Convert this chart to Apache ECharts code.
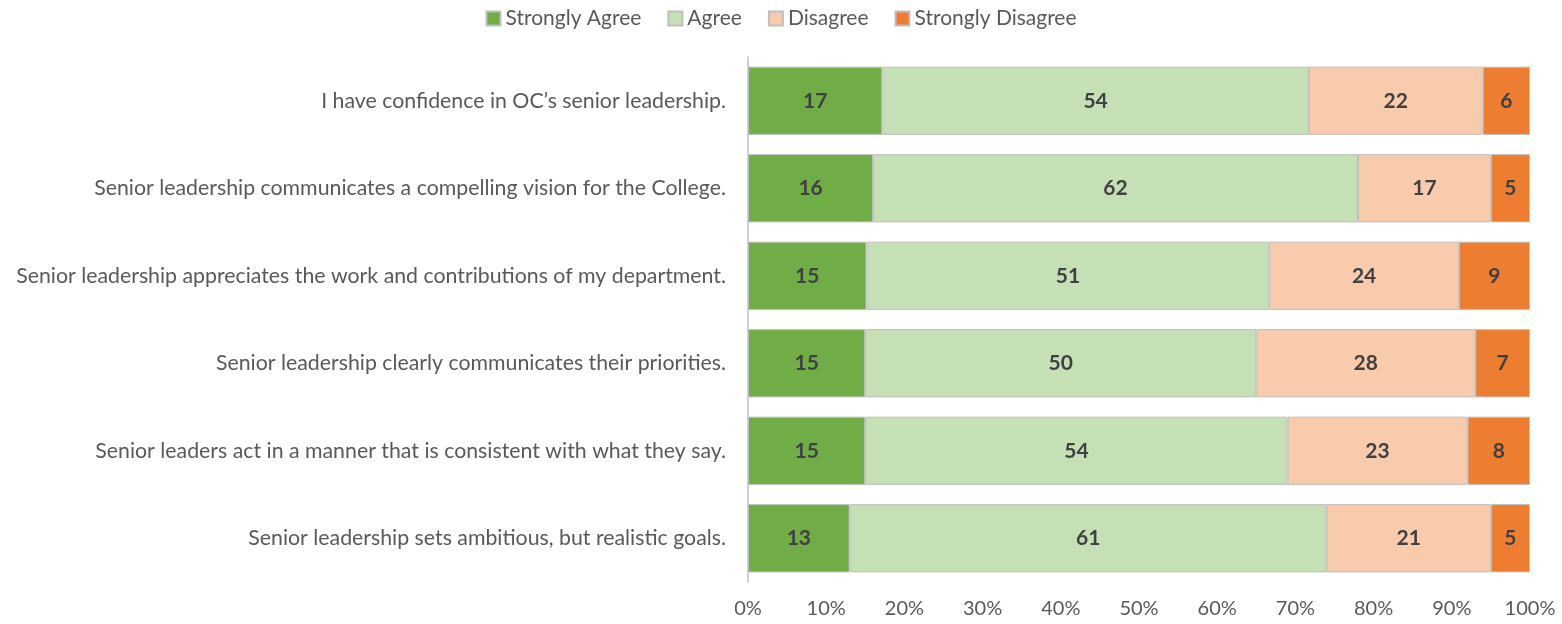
<!DOCTYPE html>
<html>
<head>
<meta charset="utf-8">
<script src="https://cdn.jsdelivr.net/npm/echarts@6/dist/echarts.min.js"></script>
<style>
  html, body { margin: 0; padding: 0; background: #fff; }
  #chart { width: 1562px; height: 624px; }
</style>
</head>
<body>
<div id="chart"></div>
<script>
// Survey statements (top to bottom)
const statements = [
  "I have confidence in OC\u2019s senior leadership.",
  "Senior leadership communicates a compelling vision for the College.",
  "Senior leadership appreciates the work and contributions of my department.",
  "Senior leadership clearly communicates their priorities.",
  "Senior leaders act in a manner that is consistent with what they say.",
  "Senior leadership sets ambitious, but realistic goals."
];

// Response shares (%) per statement
const stronglyAgree    = [17, 16, 15, 15, 15, 13];
const agree            = [54, 62, 51, 50, 54, 61];
const disagree         = [22, 17, 24, 28, 23, 21];
const stronglyDisagree = [6, 5, 9, 7, 8, 5];

const seriesNames = ["Strongly Agree", "Agree", "Disagree", "Strongly Disagree"];
const seriesColors = ["#70AD47", "#C5E0B4", "#F8CBAD", "#ED7D31"];
const axisTicks = [0, 10, 20, 30, 40, 50, 60, 70, 80, 90, 100];

const groups = [stronglyAgree, agree, disagree, stronglyDisagree];
// Each bar is scaled to a full 100% row; labels keep the reported value.
const rowTotals = statements.map((_, i) => groups.reduce((s, g) => s + g[i], 0));

const font = "Lato, 'Open Sans', sans-serif";

const series = groups.map((vals, k) => ({
  name: seriesNames[k],
  type: "bar",
  stack: "total",
  barCategoryGap: "22%",
  itemStyle: { color: seriesColors[k], borderColor: "#BFBFBF", borderWidth: 1 },
  label: {
    show: true,
    position: "inside",
    color: "#404040",
    fontWeight: "bold",
    fontSize: 21,
    fontFamily: font,
    formatter: p => String(vals[p.dataIndex])
  },
  emphasis: { disabled: true },
  data: vals.map((v, i) => v / rowTotals[i] * 100)
}));

const chart = echarts.init(document.getElementById("chart"));
chart.setOption({
  animation: false,
  legend: {
    top: 3,
    left: "center",
    itemWidth: 14,
    itemHeight: 14,
    itemGap: 26,
    icon: "rect",
    textStyle: { color: "#595959", fontSize: 21, fontFamily: font },
    data: seriesNames
  },
  grid: { left: 748, right: 32, top: 57, bottom: 42, containLabel: false },
  xAxis: {
    type: "value",
    min: 0,
    max: 100,
    interval: 10,
    axisLine: { show: false },
    axisTick: { show: false },
    splitLine: { show: false },
    axisLabel: {
      color: "#595959",
      fontSize: 20,
      fontFamily: font,
      margin: 17,
      formatter: v => axisTicks.includes(v) ? v + "%" : ""
    }
  },
  yAxis: {
    type: "category",
    inverse: true,
    data: statements,
    axisLine: { show: true, lineStyle: { color: "#BFBFBF", width: 1.5 } },
    axisTick: { show: false },
    axisLabel: { color: "#595959", fontSize: 21.3, fontFamily: font, margin: 22 }
  },
  series: series
});
</script>
</body>
</html>
